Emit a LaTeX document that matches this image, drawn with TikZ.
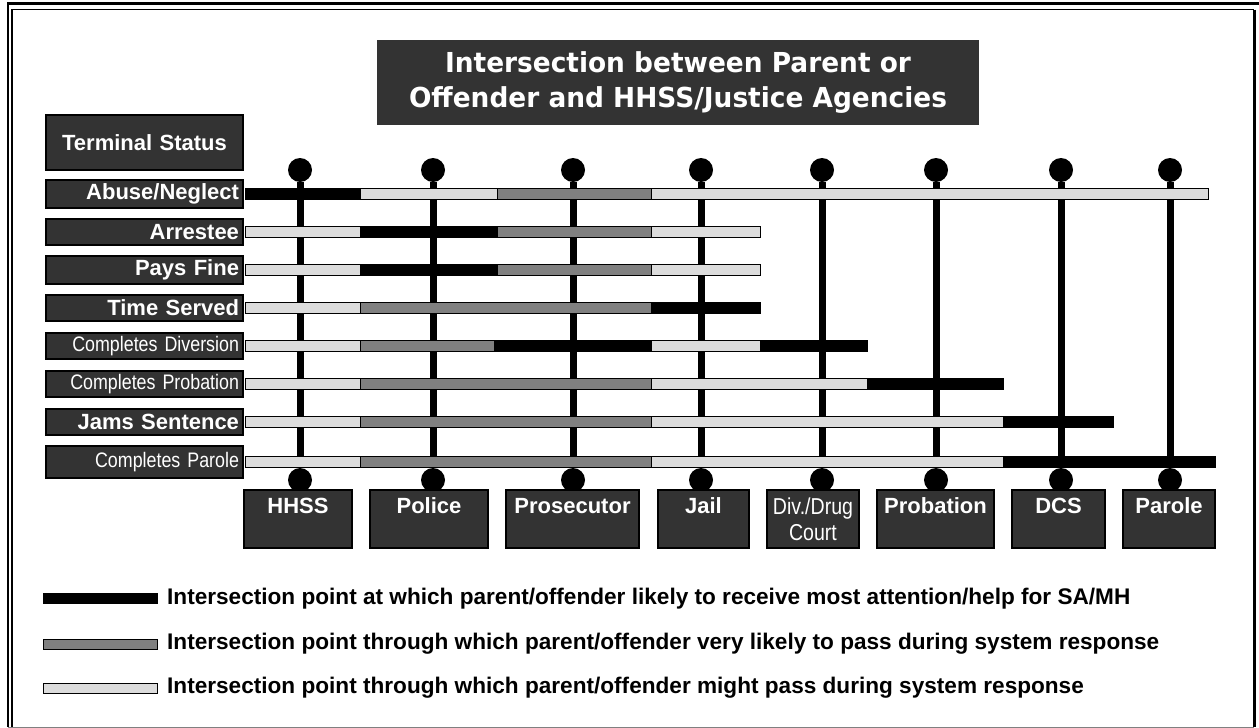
\documentclass[tikz,border=0pt]{standalone}
\usepackage{fontspec}
\setmainfont{Liberation Sans}
\newfontfamily\titlefont{DejaVu Sans}[FakeStretch=0.96]
\newfontfamily\narrowfont{Liberation Sans}[FakeStretch=0.85]
\usetikzlibrary{positioning}
\definecolor{boxgray}{HTML}{333333}
\definecolor{barlight}{HTML}{DCDCDC}
\definecolor{barmid}{HTML}{808080}
\tikzset{
  status/.style={draw=black, line width=2pt, fill=boxgray, text=white, minimum height=26pt, inner xsep=4pt, text width=189pt, align=right, font=\bfseries\fontsize{22}{24}\selectfont},
  smalllab/.style={font=\narrowfont\fontsize{21}{23}\selectfont},
  agency/.style={draw=black, line width=2pt, fill=boxgray, text=white, anchor=north, inner ysep=4pt, text height=19pt, text depth=31pt, align=center, font=\bfseries\fontsize{22}{24}\selectfont},
  ball/.style={circle, fill=black, minimum size=24pt, inner sep=0pt},
  pole/.style={line width=7pt},
  bar/.style={draw=black, line width=0.9pt},
  swatch/.style={draw=black, line width=1pt, minimum width=114pt, minimum height=10pt, inner sep=0pt},
  legtext/.style={inner sep=0pt, font=\bfseries\fontsize{22.6}{24}\selectfont}
}
\begin{document}
\begin{tikzpicture}[x=1pt, y=-1pt]
  \useasboundingbox (0,0) rectangle (1259,728);
  \draw[line width=2.6pt] (8,727) -- (8,3.5) -- (1259,3.5);
  \draw[line width=1.4pt] (12,727) -- (12,9.5) -- (1254,9.5);
  \draw[line width=3pt] (1254,9.5) -- (1254,727);
  \draw[gray, line width=1pt] (8,727) -- (1254,727);

  \node[fill=boxgray, text=white, minimum width=602pt, minimum height=85pt, align=center, font=\titlefont\bfseries\fontsize{27.5}{35}\selectfont] (title) at (678,82.5) {Intersection between Parent or\\Offender and HHSS/Justice Agencies};
  \node[status, minimum height=55pt, align=center] (term) at (144.5,142.5) {Terminal Status};

  \foreach \x [count=\i] in {300,433,573,701,822,936,1061,1170} {
    \node[ball] (t\i) at (\x,170) {};
    \node[ball] (u\i) at (\x,480) {};
    \draw[pole] (t\i) -- (u\i);
  }

  \node[status] (s1) at (144.5,194) {Abuse/Neglect};
  \node[status] (s2) at (144.5,232) {Arrestee};
  \node[status] (s3) at (144.5,270) {Pays Fine};
  \node[status] (s4) at (144.5,308) {Time Served};
  \node[status, smalllab] (s5) at (144.5,346) {Completes Diversion};
  \node[status, smalllab] (s6) at (144.5,384) {Completes Probation};
  \node[status] (s7) at (144.5,422) {Jams Sentence};
  \node[status, smalllab, minimum height=32pt] (s8) at (144.5,462) {Completes Parole};

  \foreach \a/\b/\c in {245/360/black, 360/497/barlight, 497/651/barmid, 651/1208/barlight}
    \draw[bar, fill=\c] (\a,188.5) rectangle (\b,199.5);
  \foreach \a/\b/\c in {245/360/barlight, 360/497/black, 497/651/barmid, 651/760/barlight}
    \draw[bar, fill=\c] (\a,226.5) rectangle (\b,237.5);
  \foreach \a/\b/\c in {245/360/barlight, 360/497/black, 497/651/barmid, 651/760/barlight}
    \draw[bar, fill=\c] (\a,264.5) rectangle (\b,275.5);
  \foreach \a/\b/\c in {245/360/barlight, 360/651/barmid, 651/760/black}
    \draw[bar, fill=\c] (\a,302.5) rectangle (\b,313.5);
  \foreach \a/\b/\c in {245/360/barlight, 360/494/barmid, 494/651/black, 651/760/barlight, 760/867/black}
    \draw[bar, fill=\c] (\a,340.5) rectangle (\b,351.5);
  \foreach \a/\b/\c in {245/360/barlight, 360/651/barmid, 651/867/barlight, 867/1003/black}
    \draw[bar, fill=\c] (\a,378.5) rectangle (\b,389.5);
  \foreach \a/\b/\c in {245/360/barlight, 360/651/barmid, 651/1003/barlight, 1003/1113/black}
    \draw[bar, fill=\c] (\a,416.5) rectangle (\b,427.5);
  \foreach \a/\b/\c in {245/360/barlight, 360/651/barmid, 651/1003/barlight, 1003/1215/black}
    \draw[bar, fill=\c] (\a,456.5) rectangle (\b,467.5);

  \node[agency, minimum width=108pt] (hhss) at (298,489) {HHSS};
  \node[agency, minimum width=118pt] (police) at (429,489) {Police};
  \node[agency, minimum width=133pt] (prosecutor) at (572.5,489) {Prosecutor};
  \node[agency, minimum width=91pt] (jail) at (703.5,489) {Jail};
  \node[agency, minimum width=92pt, inner xsep=2pt, text height=46pt, text depth=4pt, font=\narrowfont\fontsize{23}{26}\selectfont] (divcourt) at (813,489) {Div./Drug\\Court};
  \node[agency, minimum width=117pt] (probation) at (935.5,489) {Probation};
  \node[agency, minimum width=93pt] (dcs) at (1058.5,489) {DCS};
  \node[agency, minimum width=92pt] (parole) at (1169,489) {Parole};

  \node[swatch, fill=black] (sw1) at (100.5,598.5) {};
  \node[swatch, fill=barmid] (sw2) at (100.5,644) {};
  \node[swatch, fill=barlight] (sw3) at (100.5,688) {};
  \node[legtext, right=9pt of sw1] (leg1) {Intersection point at which parent/offender likely to receive most attention/help for SA/MH};
  \node[legtext, right=9pt of sw2] (leg2) {Intersection point through which parent/offender very likely to pass during system response};
  \node[legtext, right=9pt of sw3] (leg3) {Intersection point through which parent/offender might pass during system response};
\end{tikzpicture}
\end{document}
